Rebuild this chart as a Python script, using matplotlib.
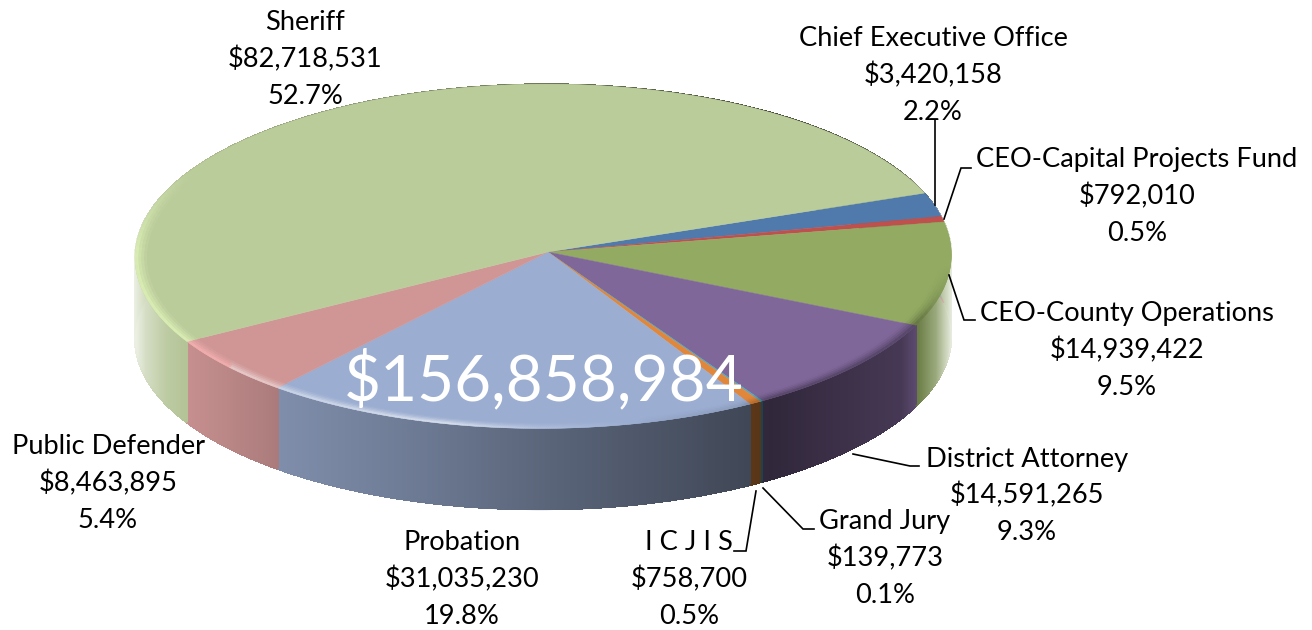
import numpy as np, matplotlib
matplotlib.use('Agg')
import matplotlib.pyplot as plt
from matplotlib.collections import PolyCollection, LineCollection

# ---- data (clockwise, from the top-right of the pie) ----
names = ['Chief Executive Office', 'CEO-Capital Projects Fund', 'CEO-County Operations',
         'District Attorney', 'Grand Jury', 'I C J I S', 'Probation', 'Public Defender', 'Sheriff']
values = [3420158, 792010, 14939422, 14591265, 139773, 758700, 31035230, 8463895, 82718531]
top_colors = ['#507AAC', '#BE504D', '#92AA62', '#80679A', '#4BACC6', '#E1873C', '#9BADD1', '#D09696', '#BBCC9B']
total_label = '$156,858,984'

# ---- styling / layout ----
plt.rcParams['font.family'] = ['Lato', 'DejaVu Sans']
label_centres = [(933, 39), (1137, 160), (1127, 314), (1027, 459), (885, 522),
                 (689, 543), (462, 543), (108, 447), (305, 23)]
line_step = 36.7
leaders = [[(935, 120), (935, 205)],
           [(944, 219), (961, 168), (971, 168)],
           [(949, 275), (964, 320), (975, 320)],
           [(853, 454), (910, 466), (919, 466)],
           [(763, 488), (803, 529), (814, 529)],
           [(756, 491), (746, 551), (734, 551)]]
WALL = 81
# perspective projection of the unit disc onto the screen
a, b, c, d, g, h, ph0, e1, e2, e3, e4 = (404.6362, -51.6559, 20.4748, 170.6998, 0.0085, -0.0265,
                                         -0.4765, 0.0087, 0.0147, 0.0154, 0.0114)

def project(phi, r=1.0):
    phi = np.asarray(phi, float) + ph0
    phi = phi + e1*np.cos(phi) + e2*np.sin(phi) + e3*np.cos(2*phi) + e4*np.sin(2*phi)
    u, v = r*np.cos(phi), r*np.sin(phi)
    w = 1 + g*u + h*v
    return 548 + (a*u + b*v)/w, 252 + (c*u + d*v)/w

def rgb(col):
    return np.array(matplotlib.colors.to_rgb(col))

def wall_color(col, x):
    m = np.interp(x, [136, 190, 277, 400, 550, 740, 770, 900, 918, 950],
                  [0.95, 0.95, 0.82, 0.72, 0.58, 0.42, 0.38, 0.55, 0.75, 0.9])
    wh = np.interp(x, [135, 145, 165, 190, 918, 935, 945, 952], [0.75, 0.45, 0.15, 0, 0, 0.25, 0.6, 0.85])
    return np.clip(rgb(col)*m*(1-wh) + wh, 0, 1)

def rim_color(col, x, y, frac):
    light = np.interp(x, [135, 190, 280, 450, 540, 650, 740, 770, 917, 945],
                      [0.6, 0.6, 0.55, 0.7, 0.25, -0.03, -0.1, -0.35, -0.35, -0.15])
    vis = np.clip((y-170)/80, 0, 1) if x < 548 else np.clip((y-265)/50, 0, 1)
    s = light*vis*frac**1.5
    base = rgb(col)
    if s <= 0:
        return np.clip(base*(1+s), 0, 1)
    target = np.clip(base*1.2, 0, 1) if x < 230 else np.array([1., 1., 1.])
    return np.clip(base + (target-base)*min(s*1.6 if x < 230 else s, 1), 0, 1)

fig = plt.figure(figsize=(13.12, 6.3), dpi=100)
ax = fig.add_axes([0, 0, 1, 1])
ax.set_xlim(0, 1312); ax.set_ylim(630, 0); ax.axis('off')

fracs = np.array(values, float)/np.sum(values)
edges = np.concatenate([[0], np.cumsum(fracs)])*2*np.pi

# side wall
polys, cols, segs = [], [], []
for i, col in enumerate(top_colors):
    nn = max(3, int((edges[i+1]-edges[i])*300))
    t = np.linspace(edges[i], edges[i+1], nn)
    X, Y = project(t)
    for j in range(nn-1):
        polys.append([(X[j], Y[j]), (X[j+1], Y[j+1]), (X[j+1], Y[j+1]+WALL), (X[j], Y[j]+WALL)])
        cols.append(wall_color(col, (X[j]+X[j+1])/2))
        segs.append([(X[j], Y[j]+WALL), (X[j+1], Y[j+1]+WALL)])
ax.add_collection(PolyCollection(polys, facecolors=cols, edgecolors=cols, linewidths=0.8, antialiaseds=False, zorder=1))
ax.add_collection(LineCollection(segs, colors=cols, linewidths=1.0, zorder=1))

# top face
for i, col in enumerate(top_colors):
    nn = max(3, int((edges[i+1]-edges[i])*200))
    t = np.linspace(edges[i], edges[i+1], nn)
    X, Y = project(t)
    ax.fill(np.r_[548, X], np.r_[252, Y], color=col, lw=0.3, zorder=2)

# bevel on the rim
polys, cols = [], []
rings = np.linspace(0.965, 1.0, 6)
for i, col in enumerate(top_colors):
    nn = max(3, int((edges[i+1]-edges[i])*200))
    t = np.linspace(edges[i], edges[i+1], nn)
    for k in range(len(rings)-1):
        X0, Y0 = project(t, rings[k]); X1, Y1 = project(t, rings[k+1])
        for j in range(nn-1):
            polys.append([(X0[j], Y0[j]), (X0[j+1], Y0[j+1]), (X1[j+1], Y1[j+1]), (X1[j], Y1[j])])
            cols.append(rim_color(col, X1[j], Y1[j], (k+0.5)/(len(rings)-1)))
ax.add_collection(PolyCollection(polys, facecolors=cols, edgecolors=cols, linewidths=0.3, zorder=3))

# leaders and labels
for pts in leaders:
    ax.plot(*zip(*pts), color='black', lw=1.2, zorder=4, solid_joinstyle='miter')
for name, val, fr, (cx, cy) in zip(names, values, fracs, label_centres):
    for k, line in enumerate([name, f'${val:,}', f'{fr*100:.1f}%']):
        ax.text(cx, cy+k*line_step, line, ha='center', va='center', fontsize=19.6, color='black', zorder=5)
ax.text(544, 380, total_label, ha='center', va='center', fontsize=46, color='white', zorder=6)

fig.savefig('out.png', dpi=100)
